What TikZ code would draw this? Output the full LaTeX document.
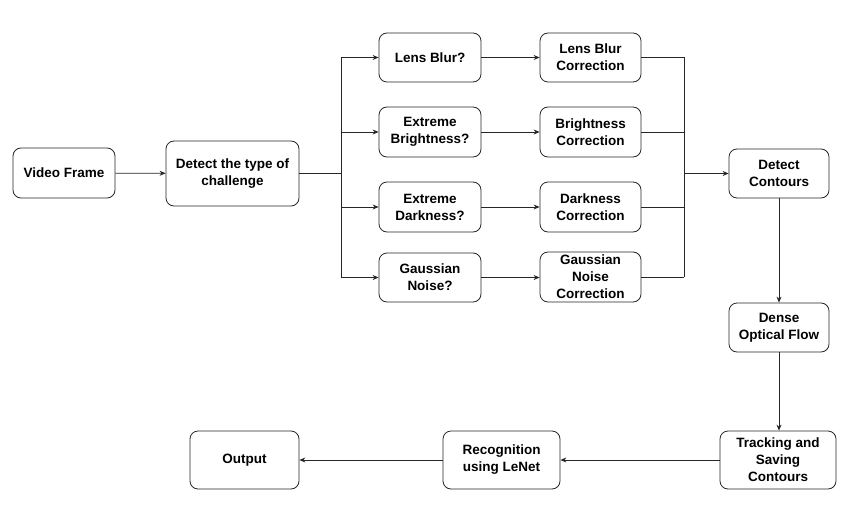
\documentclass[tikz,border=0pt]{standalone}
\usepackage{fontspec}
\setmainfont{Liberation Sans}
\usetikzlibrary{arrows.meta}
\begin{document}
\begin{tikzpicture}[x=1pt,y=-1pt,
  box/.style={draw=black!85,line width=0.8pt,rounded corners=8pt,align=center,
    font=\fontsize{13.5}{17}\selectfont\bfseries,inner sep=0pt,anchor=center},
  conn/.style={line width=0.8pt,draw=black!85},
  arr/.style={conn,-{Stealth[length=6pt,width=5pt]}}]
\useasboundingbox (0,0) rectangle (853,516);
\node[box,minimum width=102pt,minimum height=50pt] (vf) at (64,173) {Video Frame};
\node[box,minimum width=133pt,minimum height=65pt] (det) at (232.5,173.5) {Detect the type of\\challenge};
\node[box,minimum width=102pt,minimum height=49pt] (q1) at (430,57.5) {Lens Blur?};
\node[box,minimum width=102pt,minimum height=50pt] (q2) at (430,132) {Extreme\\Brightness?};
\node[box,minimum width=102pt,minimum height=50pt] (q3) at (430,207) {Extreme\\Darkness?};
\node[box,minimum width=102pt,minimum height=49pt] (q4) at (430,277.5) {Gaussian\\Noise?};
\node[box,minimum width=101pt,minimum height=49pt] (c1) at (590.5,57.5) {Lens Blur\\Correction};
\node[box,minimum width=101pt,minimum height=50pt] (c2) at (590.5,132) {Brightness\\Correction};
\node[box,minimum width=101pt,minimum height=50pt] (c3) at (590.5,207) {Darkness\\Correction};
\node[box,minimum width=101pt,minimum height=50pt,font=\fontsize{13.5}{17}\selectfont\bfseries] (c4) at (590.5,277) {Gaussian\\Noise\\Correction};
\node[box,minimum width=100pt,minimum height=49pt] (dc) at (779,173.5) {Detect\\Contours};
\node[box,minimum width=100pt,minimum height=49pt] (dof) at (779,327.5) {Dense\\Optical Flow};
\node[box,minimum width=116pt,minimum height=58pt] (tr) at (778,460) {Tracking and\\Saving\\Contours};
\node[box,minimum width=117pt,minimum height=58pt] (rec) at (501.5,460) {Recognition\\using LeNet};
\node[box,minimum width=109pt,minimum height=58pt] (out) at (244.5,460) {Output};
\coordinate (ja) at (341,173.5);
\coordinate (jb) at (684,173.5);
\draw[arr] (vf) -- (det);
\draw[conn] (det.east) -- (ja);
\draw[conn] (ja |- q1.west) -- (ja |- q4.west);
\foreach \q in {q1,q2,q3,q4} { \draw[arr] (ja |- \q.west) -- (\q.west); }
\foreach \q/\c in {q1/c1,q2/c2,q3/c3,q4/c4} { \draw[arr] (\q.east) -- (\c.west |- \q.east); }
\foreach \c in {c1,c2,c3,c4} { \draw[conn] (\c.east) -- (jb |- \c.east); }
\draw[conn] (jb |- c1.east) -- (jb |- c4.east);
\draw[arr] (jb) -- (dc.west);
\draw[arr] (dc) -- (dof);
\draw[arr] (dof.south) -- (dof.south |- tr.north);
\draw[arr] (tr) -- (rec);
\draw[arr] (rec) -- (out);
\end{tikzpicture}
\end{document}
